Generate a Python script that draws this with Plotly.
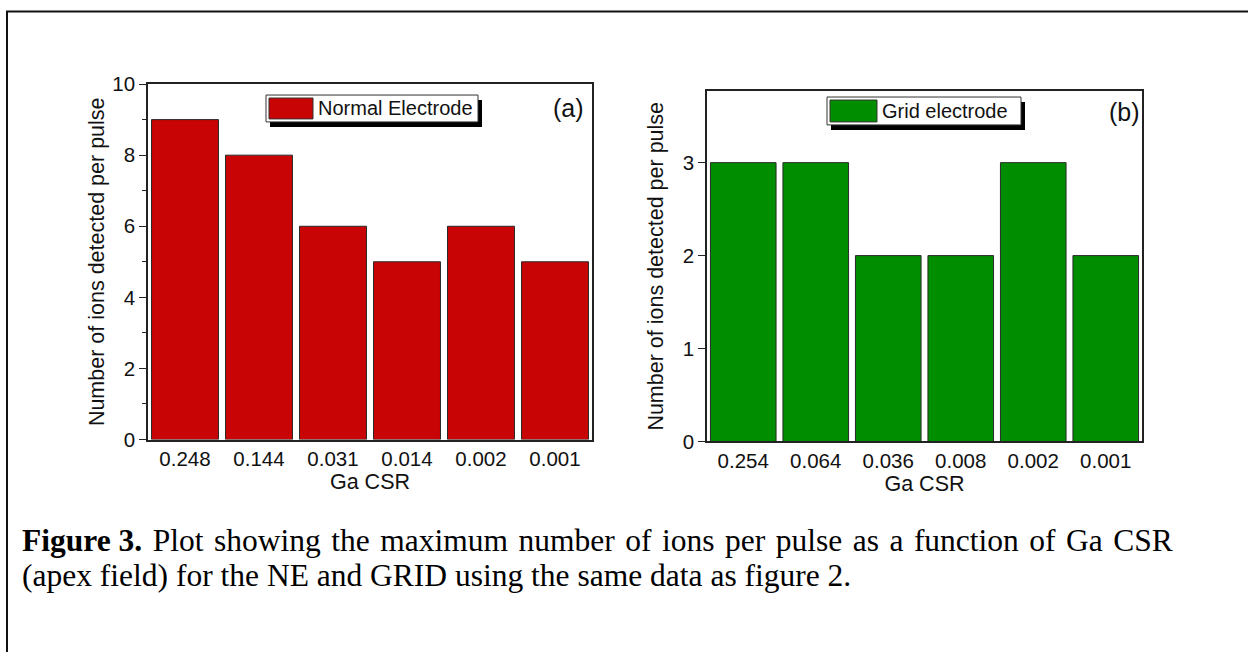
import plotly.graph_objects as go

W, H = 1248, 652

csr_ne = ["0.248", "0.144", "0.031", "0.014", "0.002", "0.001"]
ions_ne = [9, 8, 6, 5, 6, 5]
csr_grid = ["0.254", "0.064", "0.036", "0.008", "0.002", "0.001"]
ions_grid = [3, 3, 2, 2, 3, 2]

RED = "#c80404"
GREEN = "#008e00"
FONT = "Liberation Sans, Arial, sans-serif"
SERIF = "Liberation Serif, Times New Roman, serif"


def px(x):
    return x / W


def py(y):
    # target pixel row -> paper fraction (compensates observed vertical offset)
    yy = (y - 9.6) / 0.969
    return 1 - yy / H


fig = go.Figure()
fig.add_trace(go.Bar(x=csr_ne, y=ions_ne, marker=dict(color=RED, line=dict(color="#2a2a2a", width=1)),
                     xaxis="x", yaxis="y", showlegend=False))
fig.add_trace(go.Bar(x=csr_grid, y=ions_grid, marker=dict(color=GREEN, line=dict(color="#2a2a2a", width=1)),
                     xaxis="x2", yaxis="y2", showlegend=False))

axis_common = dict(showline=True, linecolor="#222", linewidth=1.5, mirror=True,
                   showgrid=False, zeroline=False,
                   tickfont=dict(family=FONT, size=20.5, color="#111"))

fig.update_layout(
    width=W, height=H,
    margin=dict(l=0, r=0, t=0, b=0),
    paper_bgcolor="white", plot_bgcolor="white",
    bargap=0.095,
    xaxis=dict(domain=[px(148), px(592)], anchor="y", type="category", range=[-0.5, 5.5],
               ticks="",
               title=dict(text="Ga CSR", font=dict(family=FONT, size=21.5, color="#111"), standoff=4),
               **axis_common),
    yaxis=dict(domain=[py(439), py(82)], anchor="x", range=[0, 10], tickvals=[0, 2, 4, 6, 8, 10],
               ticks="outside", ticklen=7, tickcolor="#222", tickwidth=1.2,
               minor=dict(tickvals=[1, 3, 5, 7, 9], ticks="outside", ticklen=4, tickcolor="#222", tickwidth=1.2),
               title=dict(text="Number of ions detected per pulse", font=dict(family=FONT, size=21.5, color="#111"),
                          standoff=2),
               **axis_common),
    xaxis2=dict(domain=[px(707), px(1142)], anchor="y2", type="category", range=[-0.5, 5.5],
                ticks="",
                title=dict(text="Ga CSR", font=dict(family=FONT, size=21.5, color="#111"), standoff=4),
                **axis_common),
    yaxis2=dict(domain=[py(441), py(89)], anchor="x2", range=[0, 3.77], tickvals=[0, 1, 2, 3],
                ticks="outside", ticklen=7, tickcolor="#222", tickwidth=1.2,
                title=dict(text="Number of ions detected per pulse", font=dict(family=FONT, size=21.5, color="#111"),
                           standoff=13),
                **axis_common),
)

shapes = []
annotations = []

# outer frame of the figure
shapes.append(dict(type="rect", xref="paper", yref="paper", x0=px(7), x1=1.02, y0=-0.05, y1=py(9),
                   line=dict(color="#111", width=2), fillcolor="rgba(0,0,0,0)", layer="above"))


def legend(x0, y0, x1, y1, sw_x0, sw_x1, color, label, tx):
    # shadow
    shapes.append(dict(type="rect", xref="paper", yref="paper", x0=px(x0 + 4), x1=px(x1 + 4),
                       y0=py(y1 + 5), y1=py(y0 + 5), line=dict(width=0), fillcolor="black", layer="above"))
    shapes.append(dict(type="rect", xref="paper", yref="paper", x0=px(x0), x1=px(x1),
                       y0=py(y1), y1=py(y0), line=dict(color="#333", width=1), fillcolor="white", layer="above"))
    shapes.append(dict(type="rect", xref="paper", yref="paper", x0=px(sw_x0), x1=px(sw_x1),
                       y0=py(y1 - 3), y1=py(y0 + 3), line=dict(color="#333", width=1), fillcolor=color, layer="above"))
    annotations.append(dict(xref="paper", yref="paper", x=px(tx), y=py((y0 + y1) / 2), xanchor="left",
                            yanchor="middle", showarrow=False, text=label,
                            font=dict(family=FONT, size=20, color="#111")))


legend(266, 93, 478, 120, 269, 313, RED, "Normal Electrode", 316)
legend(827, 95, 1021, 123, 830, 877, GREEN, "Grid electrode", 880)

annotations.append(dict(xref="paper", yref="paper", x=px(568), y=py(106), xanchor="center", yanchor="middle",
                        showarrow=False, text="(a)", font=dict(family=FONT, size=25, color="#111")))
annotations.append(dict(xref="paper", yref="paper", x=px(1124), y=py(110), xanchor="center", yanchor="middle",
                        showarrow=False, text="(b)", font=dict(family=FONT, size=25, color="#111")))

# caption (first line justified in the source: every word gap gets a hair space)
caption1_words = ["Plot", "showing", "the", "maximum", "number", "of", "ions", "per", "pulse", "as",
                  "a", "function", "of", "Ga", "CSR"]
HS = "\u200a"
line1 = "<b>Figure 3.</b> " + HS + (" " + HS).join(caption1_words)
annotations.append(dict(xref="paper", yref="paper", x=px(20), y=py(540), xanchor="left", yanchor="middle",
                        showarrow=False, text=line1,
                        font=dict(family=SERIF, size=31.5, color="#000")))
annotations.append(dict(xref="paper", yref="paper", x=px(20), y=py(576), xanchor="left", yanchor="middle",
                        showarrow=False,
                        text="(apex field) for the NE and GRID using the same data as figure 2.",
                        font=dict(family=SERIF, size=31.5, color="#000")))

fig.update_layout(shapes=shapes, annotations=annotations)
fig.write_html("out.html")
